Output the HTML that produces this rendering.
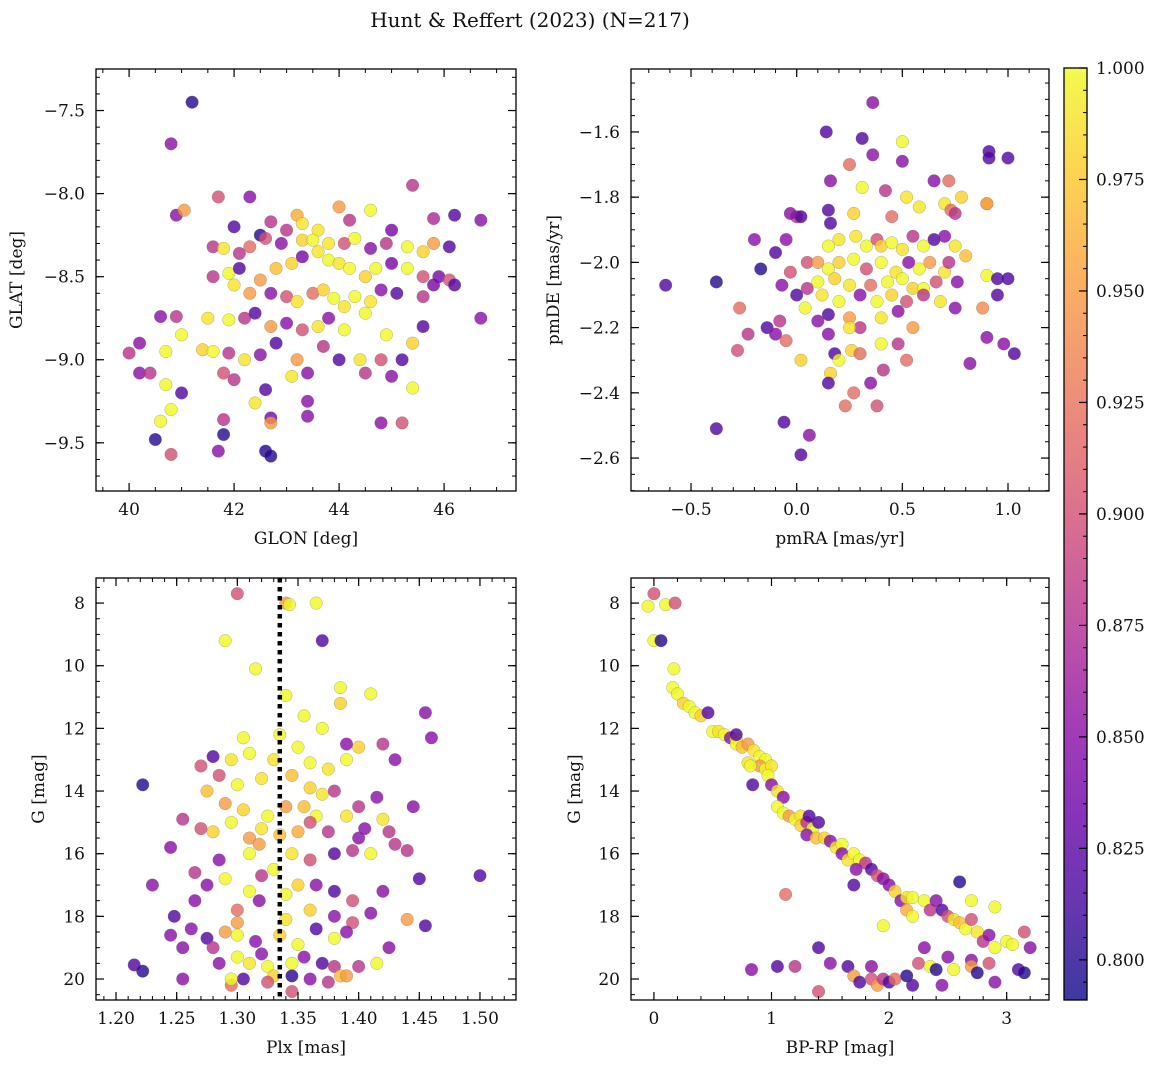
<!DOCTYPE html>
<html><head><meta charset="utf-8">
<style>
body{margin:0;background:#fff;}
svg text{font-family:"DejaVu Serif","Liberation Serif",serif;fill:#111;}
</style></head>
<body>
<svg id="fig" width="1161" height="1068" viewBox="0 0 1161 1068" xmlns="http://www.w3.org/2000/svg">
<text x="530" y="27" font-size="20" text-anchor="middle">Hunt &amp; Reffert (2023) (N=217)</text>
</svg>
<script>
// ---- data: [x, y, membership probability] ----
const glonGlat = [
[41.2,-7.45,0.80],[40.8,-7.7,0.85],[41.7,-8.02,0.90],[42.3,-8.02,0.85],[40.9,-8.13,0.85],[41.05,-8.1,0.95],[42.0,-8.2,0.82],[42.5,-8.25,0.80],[42.7,-8.17,0.88],[43.0,-8.22,0.88],[43.2,-8.13,0.96],[43.3,-8.18,0.99],[43.6,-8.22,0.99],[44.0,-8.08,0.95],[44.2,-8.16,0.88],[44.6,-8.1,1.0],[45.4,-7.95,0.88],[45.0,-8.22,0.84],[45.8,-8.15,0.87],[46.2,-8.13,0.82],[46.7,-8.16,0.85],
[41.6,-8.32,0.88],[41.8,-8.33,0.99],[42.1,-8.36,0.88],[42.3,-8.32,0.92],[42.6,-8.27,0.90],[42.9,-8.3,0.85],[43.3,-8.28,0.98],[43.5,-8.28,1.0],[43.8,-8.3,0.99],[44.1,-8.3,0.90],[44.3,-8.27,1.0],[44.6,-8.33,0.85],[44.9,-8.3,0.88],[45.3,-8.32,1.0],[45.6,-8.35,0.98],[45.8,-8.3,0.95],[46.1,-8.32,0.82],
[41.6,-8.5,0.88],[41.9,-8.48,1.0],[42.1,-8.45,0.82],[42.5,-8.52,0.95],[42.8,-8.45,0.97],[43.1,-8.42,0.98],[43.3,-8.38,0.84],[43.6,-8.35,0.99],[43.8,-8.4,1.0],[44.0,-8.42,0.99],[44.2,-8.45,1.0],[44.5,-8.5,0.98],[44.7,-8.45,1.0],[45.0,-8.42,0.84],[45.3,-8.45,1.0],[45.6,-8.5,0.9],[45.9,-8.5,0.84],[46.1,-8.52,0.9],[46.2,-8.55,0.82],
[42.3,-8.6,0.95],[42.0,-8.55,0.99],[42.7,-8.6,0.85],[43.0,-8.62,0.9],[43.2,-8.65,0.99],[43.5,-8.6,0.92],[43.7,-8.58,0.98],[43.9,-8.63,1.0],[44.1,-8.68,0.99],[44.3,-8.62,1.0],[44.6,-8.65,0.99],[44.8,-8.58,0.85],[45.1,-8.6,0.82],[45.6,-8.62,0.88],[45.8,-8.55,0.84],
[40.6,-8.74,0.85],[40.9,-8.74,0.88],[41.5,-8.75,0.99],[41.9,-8.76,1.0],[42.2,-8.75,0.88],[42.4,-8.72,0.82],[42.7,-8.8,0.95],[43.0,-8.78,0.85],[43.3,-8.82,0.9],[43.6,-8.8,0.99],[43.8,-8.75,0.85],[44.1,-8.82,1.0],[44.5,-8.72,1.0],[44.9,-8.85,1.0],[45.6,-8.8,0.82],[46.7,-8.75,0.85],
[40.0,-8.96,0.88],[40.2,-8.9,0.85],[40.7,-8.95,1.0],[41.4,-8.94,0.98],[41.6,-8.95,1.0],[41.0,-8.85,1.0],[41.9,-8.96,0.88],[42.2,-9.0,0.99],[42.5,-8.97,0.85],[42.8,-8.9,0.82],[43.2,-9.0,0.95],[43.7,-8.92,0.88],[44.0,-9.0,0.82],[44.4,-9.0,0.99],[44.8,-9.0,0.9],[45.2,-9.0,0.82],[45.4,-8.9,0.98],
[40.2,-9.08,0.85],[40.4,-9.08,0.88],[40.7,-9.15,1.0],[41.0,-9.2,0.82],[41.8,-9.08,0.9],[42.0,-9.12,0.88],[42.6,-9.18,0.82],[43.1,-9.1,0.99],[43.4,-9.08,0.85],[44.5,-9.08,0.88],[45.0,-9.1,0.85],[45.4,-9.17,1.0],
[40.6,-9.37,1.0],[40.8,-9.3,1.0],[41.8,-9.36,0.88],[42.4,-9.26,0.99],[42.7,-9.35,0.84],[42.7,-9.38,0.95],[43.4,-9.25,0.85],[43.4,-9.34,0.85],[44.8,-9.38,0.85],[45.2,-9.38,0.9],
[40.5,-9.48,0.80],[41.7,-9.55,0.85],[41.8,-9.45,0.80],[42.6,-9.55,0.80],[42.7,-9.58,0.80],[40.8,-9.57,0.90]
];
const pmraPmde = [
[0.36,-1.51,0.85],[0.14,-1.6,0.82],[0.31,-1.62,0.82],[0.36,-1.67,0.85],[0.25,-1.7,0.92],[0.5,-1.63,1.0],[0.5,-1.69,0.85],[0.16,-1.75,0.85],[0.31,-1.77,1.0],[0.42,-1.78,0.88],[0.52,-1.8,0.99],[0.65,-1.75,0.85],[0.72,-1.75,0.92],[0.78,-1.8,0.98],[0.91,-1.66,0.82],[0.91,-1.68,0.82],[1.0,-1.68,0.82],[0.9,-1.82,0.92],[0.9,-1.82,0.96],[0.15,-1.84,0.82],[0.27,-1.85,0.98],[0.45,-1.86,0.92],[0.58,-1.83,0.99],[0.7,-1.82,0.99],[0.73,-1.84,0.92],[0.75,-1.85,0.88],[0.0,-1.86,0.88],[0.02,-1.86,0.82],[-0.03,-1.85,0.85],[0.16,-1.88,0.82],
[0.15,-1.95,1.0],[0.2,-1.93,0.99],[0.28,-1.92,0.99],[0.33,-1.95,1.0],[0.38,-1.93,0.9],[0.4,-1.95,0.98],[0.45,-1.94,1.0],[0.5,-1.96,0.99],[0.55,-1.92,0.88],[0.6,-1.95,1.0],[0.65,-1.93,0.82],[0.7,-1.92,0.85],[0.75,-1.95,0.99],[0.8,-1.98,0.97],
[-0.05,-1.93,0.85],[-0.2,-1.93,0.85],[-0.1,-1.97,0.82],
[0.05,-2.0,0.9],[0.1,-2.0,0.95],[0.15,-2.02,1.0],[0.2,-2.0,0.98],[0.27,-1.99,1.0],[0.33,-2.02,0.9],[0.4,-2.0,1.0],[0.47,-2.03,0.99],[0.53,-2.0,0.85],[0.58,-2.02,1.0],[0.63,-2.0,0.95],[0.7,-2.03,0.99],[0.72,-2.0,0.88],
[-0.17,-2.02,0.8],[-0.03,-2.03,0.9],[0.1,-2.06,1.0],[0.18,-2.05,0.98],[0.25,-2.07,0.99],[0.35,-2.07,0.92],[0.43,-2.06,1.0],[0.5,-2.05,1.0],[0.55,-2.08,0.98],[0.6,-2.08,1.0],[0.66,-2.06,0.9],[0.76,-2.06,0.85],[0.9,-2.04,1.0],[0.95,-2.05,0.82],[1.0,-2.05,0.82],
[-0.62,-2.07,0.82],[-0.38,-2.06,0.8],[-0.07,-2.07,0.85],[0.0,-2.1,0.82],[0.05,-2.08,0.88],
[0.12,-2.1,0.99],[0.2,-2.12,1.0],[0.3,-2.1,0.85],[0.38,-2.12,1.0],[0.45,-2.1,0.98],[0.52,-2.12,0.9],[0.6,-2.1,0.88],[0.68,-2.12,0.99],[0.75,-2.14,0.85],[0.95,-2.1,0.82],
[-0.27,-2.14,0.92],[0.04,-2.14,1.0],[-0.08,-2.18,0.88],[0.1,-2.18,0.85],[0.15,-2.16,0.82],[0.25,-2.17,0.95],[0.3,-2.2,0.88],[0.4,-2.17,0.99],[0.48,-2.15,0.85],[0.55,-2.2,0.95],[0.88,-2.14,0.94],
[-0.23,-2.22,0.88],[-0.14,-2.2,0.82],[-0.1,-2.22,0.85],[-0.05,-2.24,0.92],[0.15,-2.22,0.85],[0.18,-2.28,0.82],[0.2,-2.3,1.0],[0.25,-2.2,0.99],[0.26,-2.27,0.98],[0.3,-2.28,0.92],[0.4,-2.25,1.0],[0.48,-2.25,0.88],
[-0.28,-2.27,0.9],[0.02,-2.3,0.98],[0.16,-2.34,0.98],[0.15,-2.37,0.82],[0.27,-2.4,0.92],[0.35,-2.37,0.85],[0.41,-2.33,0.88],[0.52,-2.3,0.92],[0.9,-2.23,0.85],[0.98,-2.25,0.85],[1.03,-2.28,0.82],[0.82,-2.31,0.85],
[0.23,-2.44,0.92],[0.38,-2.44,0.9],[-0.38,-2.51,0.82],[-0.06,-2.49,0.82],[0.06,-2.53,0.85],[0.02,-2.59,0.82]
];
const plxG = [
[1.30,7.7,0.9],[1.34,8.0,0.95],[1.343,8.05,1.0],[1.365,8.0,1.0],[1.37,9.2,0.82],[1.29,9.2,1.0],[1.315,10.1,1.0],[1.34,10.95,1.0],[1.385,10.7,1.0],[1.41,10.9,1.0],[1.385,11.2,0.98],[1.455,11.5,0.85],[1.355,11.6,1.0],[1.37,12.0,1.0],[1.335,12.2,1.0],[1.46,12.3,0.85],[1.305,12.3,1.0],[1.35,12.6,1.0],[1.39,12.5,0.85],[1.4,12.6,0.98],[1.42,12.5,0.88],[1.28,12.9,0.82],[1.295,13.0,0.99],[1.31,12.8,1.0],[1.33,13.0,0.99],[1.36,13.1,1.0],[1.375,13.3,0.99],[1.39,13.0,1.0],[1.43,13.0,0.85],
[1.27,13.2,0.9],[1.285,13.5,0.9],[1.3,13.8,1.0],[1.32,13.6,0.99],[1.345,13.5,0.97],[1.36,13.9,0.98],[1.37,14.1,0.99],[1.38,14.0,0.88],[1.4,14.5,0.88],[1.415,14.2,0.85],[1.445,14.5,0.85],
[1.222,13.8,0.8],[1.275,14.0,0.97],[1.29,14.4,0.95],[1.305,14.6,0.98],[1.325,14.8,1.0],[1.34,14.5,0.95],[1.355,14.5,0.97],[1.365,14.8,1.0],[1.39,14.8,0.99],[1.42,14.9,0.99],
[1.27,15.2,0.9],[1.28,15.3,0.98],[1.295,15.0,1.0],[1.31,15.5,0.95],[1.32,15.2,0.99],[1.335,15.4,0.97],[1.35,15.3,0.96],[1.36,15.0,0.9],[1.375,15.3,0.88],[1.4,15.5,0.85],[1.405,15.2,0.85],[1.425,15.3,0.88],[1.255,14.9,0.88],
[1.245,15.8,0.85],[1.285,16.2,0.85],[1.31,16.0,1.0],[1.33,16.5,1.0],[1.345,16.0,0.99],[1.36,16.2,0.9],[1.38,16.0,0.82],[1.395,15.9,0.88],[1.41,16.0,1.0],[1.43,15.7,0.88],[1.44,15.9,0.88],[1.318,15.7,0.95],
[1.23,17.0,0.85],[1.265,16.6,0.88],[1.275,17.0,0.85],[1.29,16.8,1.0],[1.31,17.2,1.0],[1.32,16.7,0.88],[1.35,17.0,0.98],[1.34,17.3,1.0],[1.365,17.0,0.85],[1.38,17.2,0.82],[1.395,17.5,0.9],[1.42,17.2,0.85],[1.45,16.8,0.82],
[1.265,17.5,0.85],[1.3,17.8,0.92],[1.318,17.5,0.85],[1.34,18.1,0.99],[1.36,17.8,0.98],[1.38,18.0,0.85],[1.395,18.2,0.9],[1.41,17.9,0.85],[1.44,18.1,0.95],[1.455,18.3,0.82],[1.248,18.0,0.82],[1.262,18.4,0.85],
[1.245,18.6,0.85],[1.275,18.7,0.82],[1.29,18.5,0.95],[1.3,18.6,1.0],[1.315,18.8,0.85],[1.335,18.6,0.98],[1.35,18.9,1.0],[1.365,18.4,0.82],[1.38,18.7,1.0],[1.39,18.5,0.85],[1.425,19.0,0.85],
[1.215,19.55,0.82],[1.222,19.75,0.8],[1.255,19.0,0.85],[1.28,19.0,0.88],[1.285,19.5,0.85],[1.3,19.3,1.0],[1.31,19.5,0.99],[1.32,19.2,0.85],[1.325,19.6,1.0],[1.33,19.9,0.98],[1.345,19.5,1.0],[1.355,19.3,0.85],[1.37,19.5,0.82],[1.38,19.6,0.88],[1.385,19.9,0.97],[1.4,19.6,0.88],[1.415,19.5,1.0],[1.5,16.7,0.82],
[1.255,20.0,0.85],[1.295,20.2,0.92],[1.305,20.0,0.82],[1.325,20.1,0.9],[1.345,19.9,0.8],[1.345,20.4,0.9],[1.36,20.0,0.85],[1.375,20.1,0.88],[1.39,19.9,0.95],[1.3,18.2,0.95],[1.295,20.0,1.0]
];
const bprpG = [
[-0.05,8.1,1.0],[0.0,7.7,0.9],[0.1,8.05,1.0],[0.18,8.0,0.9],[0.0,9.2,1.0],[0.06,9.2,0.8],[0.17,10.1,1.0],[0.16,10.7,1.0],[0.2,10.9,1.0],[0.25,11.2,0.98],[0.3,11.3,1.0],[0.35,11.5,1.0],[0.4,11.6,0.98],[0.46,11.5,0.82],[0.5,12.1,1.0],[0.55,12.1,0.99],[0.6,12.2,1.0],[0.65,12.3,0.85],[0.7,12.35,0.99],[0.7,12.5,1.0],[0.75,12.6,0.97],[0.8,12.5,0.95],[0.85,12.7,0.99],[0.7,12.2,0.82],[0.9,12.9,1.0],[0.95,13.0,1.0],[0.9,13.2,0.95],[0.95,13.3,1.0],[1.0,13.2,0.99],[0.97,13.5,1.0],[1.0,13.8,0.85],[0.84,13.8,0.82],[0.8,13.1,0.99],[0.82,13.2,1.0],[1.05,14.0,0.99],[1.1,14.2,0.85],[1.05,14.5,1.0],[1.1,14.7,1.0],[1.15,14.8,0.95],[1.2,14.9,1.0],[1.25,14.8,0.99],[1.25,15.1,0.98],[1.3,15.0,0.88],[1.35,15.2,1.0],[1.4,15.0,0.82],[1.32,14.8,0.82],[1.3,15.4,0.85],[1.38,15.5,0.97],[1.45,15.5,0.98],[1.5,15.6,0.85],[1.55,15.8,0.99],[1.6,15.7,1.0],[1.6,16.0,0.85],[1.65,16.2,0.99],[1.7,16.0,1.0],[1.75,16.2,1.0],[1.8,16.3,0.88],[1.72,16.5,0.85],[1.7,17.0,0.82],[1.85,16.5,0.82],[1.9,16.7,0.9],[1.95,16.8,0.85],[2.0,17.0,0.85],[2.05,17.2,0.98],[2.1,17.5,0.85],[2.15,17.4,0.99],[2.2,17.4,1.0],[2.15,17.8,0.96],[2.3,17.5,1.0],[2.35,17.8,0.88],[2.4,17.5,0.85],[2.45,17.8,0.82],[2.5,18.0,0.9],[2.55,18.1,0.99],[2.6,18.2,0.97],[2.6,16.9,0.8],[2.7,17.5,1.0],[2.65,18.4,1.0],[2.7,18.1,0.9],[2.75,18.5,0.99],[2.8,18.8,0.88],[2.85,18.6,0.85],[2.9,17.7,1.0],[2.9,19.0,1.0],[3.0,18.8,1.0],[3.05,18.9,1.0],[3.15,18.5,0.9],[3.2,19.0,0.85],[1.12,17.3,0.92],[1.95,18.3,1.0],[2.7,19.4,0.85],
[0.83,19.7,0.85],[1.05,19.6,0.82],[1.4,19.0,0.82],[1.2,19.6,0.88],[1.4,20.4,0.9],[1.5,19.5,0.85],[1.65,19.6,0.82],[1.7,19.9,0.95],[1.75,20.1,0.82],[1.85,19.6,0.85],[1.85,20.0,0.9],[1.9,20.2,0.95],[1.95,20.0,0.88],[2.0,20.1,0.82],[2.05,20.0,0.92],[2.15,19.9,0.8],[2.2,20.2,0.82],[2.25,19.5,0.9],[2.3,19.0,0.85],[2.35,19.6,1.0],[2.4,19.7,0.8],[2.45,20.2,0.85],[2.5,19.3,0.85],[2.55,19.7,1.0],[2.7,19.6,0.95],[2.75,19.8,0.8],[2.85,19.5,0.9],[2.9,20.1,0.85],[3.1,19.7,0.82],[3.15,19.8,0.8],[2.2,18.0,1.0]
];
const meanPlx = 1.335;
const cbarTicks = [0.800,0.825,0.850,0.875,0.900,0.925,0.950,0.975,1.000];

const NS='http://www.w3.org/2000/svg';
const svg=document.getElementById('fig');
const VMIN=0.791, VMAX=1.0;
const plasma=['#0d0887','#41049d','#6a00a8','#8f0da4','#b12a90','#cc4778','#e16462','#f2844b','#fca636','#fcce25','#f0f921'];
function hex(h){return [1,3,5].map(i=>parseInt(h.substr(i,2),16));}
function cmap(v){let t=Math.max(0,Math.min(1,(v-VMIN)/(VMAX-VMIN)))*10;let i=Math.min(9,Math.floor(t));let f=t-i;const a=hex(plasma[i]),b=hex(plasma[i+1]);return 'rgb('+a.map((c,k)=>Math.round(c+(b[k]-c)*f)).join(',')+')';}
function el(tag,attrs,parent){const e=document.createElementNS(NS,tag);for(const k in attrs)e.setAttribute(k,attrs[k]);(parent||svg).appendChild(e);return e;}
function fmt(v,d){return (v<0?'\u2212':'')+Math.abs(v).toFixed(d);}

function panel(c){
  const g=el('g',{});
  
  
  const sx=v=>c.x0+(v-c.xl[0])/(c.xl[1]-c.xl[0])*(c.x1-c.x0);
  const sy=v=>c.y1-(v-c.yl[0])/(c.yl[1]-c.yl[0])*(c.y1-c.y0);
  c.data.forEach(d=>{
    const p=el('circle',{cx:sx(d[0]),cy:sy(d[1]),r:6.3,fill:cmap(d[2]),'fill-opacity':0.8,stroke:'#666','stroke-opacity':0.5,'stroke-width':0.5},g);
    
    
  });
  if(c.vline!==undefined){
    const l=el('line',{x1:sx(c.vline),x2:sx(c.vline),y1:c.y0,y2:c.y1,stroke:'#000','stroke-width':4.5,'stroke-dasharray':'4.5 4.5'},g);
    
    
  }
  const eps=1e-9;
  function ticks(lim,step,fn){const lo=Math.min(lim[0],lim[1]),hi=Math.max(lim[0],lim[1]);const out=[];let s=Math.ceil(lo/step-eps);for(let k=s;k*step<=hi+eps;k++)out.push(k*step);out.forEach(fn);}
  ticks(c.xl,c.xminor,v=>{const x=sx(v);el('line',{x1:x,x2:x,y1:c.y1,y2:c.y1-4,stroke:'#000','stroke-width':1},g);el('line',{x1:x,x2:x,y1:c.y0,y2:c.y0+4,stroke:'#000','stroke-width':1},g);});
  ticks(c.yl,c.yminor,v=>{const y=sy(v);el('line',{x1:c.x0,x2:c.x0+4,y1:y,y2:y,stroke:'#000','stroke-width':1},g);el('line',{x1:c.x1,x2:c.x1-4,y1:y,y2:y,stroke:'#000','stroke-width':1},g);});
  ticks(c.xl,c.xmajor,v=>{const x=sx(v);el('line',{x1:x,x2:x,y1:c.y1,y2:c.y1-8,stroke:'#000','stroke-width':1.2},g);el('line',{x1:x,x2:x,y1:c.y0,y2:c.y0+8,stroke:'#000','stroke-width':1.2},g);
    const t=el('text',{x:x,y:c.y1+24,'font-size':17,'text-anchor':'middle'},g);t.textContent=fmt(v,c.xd);
    });
  ticks(c.yl,c.ymajor,v=>{const y=sy(v);el('line',{x1:c.x0,x2:c.x0+8,y1:y,y2:y,stroke:'#000','stroke-width':1.2},g);el('line',{x1:c.x1,x2:c.x1-8,y1:y,y2:y,stroke:'#000','stroke-width':1.2},g);
    const t=el('text',{x:c.x0-11,y:y+6,'font-size':17,'text-anchor':'end'},g);t.textContent=fmt(v,c.yd);
    });
  el('rect',{x:c.x0,y:c.y0,width:c.x1-c.x0,height:c.y1-c.y0,fill:'none',stroke:'#000','stroke-width':1.3},g);
  const xt=el('text',{x:(c.x0+c.x1)/2,y:c.y1+53,'font-size':17,'text-anchor':'middle'},g);xt.textContent=c.xlabel;
  
  const yx=c.ylx,yy=(c.y0+c.y1)/2;
  const yt=el('text',{x:yx,y:yy,'font-size':17,'text-anchor':'middle',transform:'rotate(-90 '+yx+' '+yy+')'},g);yt.textContent=c.ylabel;
  
}

panel({name:'glon-glat-panel',data:glonGlat,x0:96,x1:516,y0:69,y1:491,xl:[39.37,47.37],yl:[-9.79,-7.25],xmajor:2,xminor:0.5,ymajor:0.5,yminor:0.1,xd:0,yd:1,xlabel:'GLON [deg]',ylabel:'GLAT [deg]',ylx:22});
panel({name:'pm-panel',data:pmraPmde,x0:631,x1:1049,y0:69,y1:491,xl:[-0.784,1.194],yl:[-2.701,-1.407],xmajor:0.5,xminor:0.1,ymajor:0.2,yminor:0.05,xd:1,yd:1,xlabel:'pmRA [mas/yr]',ylabel:'pmDE [mas/yr]',ylx:559});
panel({name:'plx-g-panel',data:plxG,x0:96,x1:516,y0:578,y1:1000,xl:[1.1835,1.5297],yl:[20.67,7.20],xmajor:0.05,xminor:0.01,ymajor:2,yminor:0.5,xd:2,yd:0,xlabel:'Plx [mas]',ylabel:'G [mag]',ylx:44,vline:meanPlx});
panel({name:'cmd-panel',data:bprpG,x0:631,x1:1049,y0:578,y1:1000,xl:[-0.195,3.36],yl:[20.67,7.20],xmajor:1,xminor:0.2,ymajor:2,yminor:0.5,xd:0,yd:0,xlabel:'BP-RP [mag]',ylabel:'G [mag]',ylx:580});

(function(){
  const cx0=1064,cx1=1087,cy0=68,cy1=1000;
  const g=el('g',{});
  
  
  const defs=el('defs',{},g);
  const lg=el('linearGradient',{id:'cbg',x1:0,y1:1,x2:0,y2:0},defs);
  for(let i=0;i<=20;i++){el('stop',{offset:(i/20),'stop-color':cmap(VMIN+(VMAX-VMIN)*i/20),'stop-opacity':0.8},lg);}
  el('rect',{x:cx0,y:cy0,width:cx1-cx0,height:cy1-cy0,fill:'url(#cbg)'},g);
  const sy=v=>cy1-(v-VMIN)/(VMAX-VMIN)*(cy1-cy0);
  for(let k=159;k<=200;k++){const y=sy(k*0.005);el('line',{x1:cx1,x2:cx1-4,y1:y,y2:y,stroke:'#000','stroke-width':1},g);}
  cbarTicks.forEach(v=>{const y=sy(v);el('line',{x1:cx1,x2:cx1-8,y1:y,y2:y,stroke:'#000','stroke-width':1.2},g);
    const t=el('text',{x:cx1+9,y:y+6,'font-size':17},g);t.textContent=v.toFixed(3);
    });
  el('rect',{x:cx0,y:cy0,width:cx1-cx0,height:cy1-cy0,fill:'none',stroke:'#000','stroke-width':1.3},g);
})();
</script>
</body></html>
